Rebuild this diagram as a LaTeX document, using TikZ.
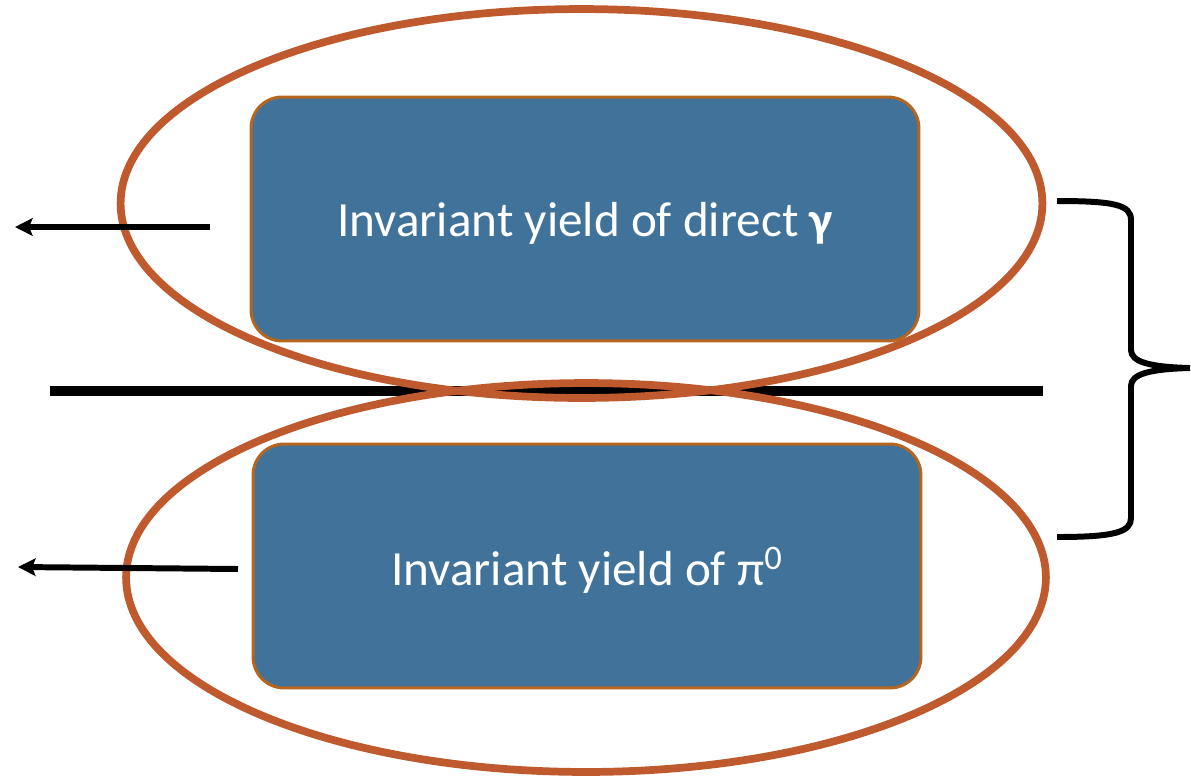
\documentclass[tikz,border=0pt]{standalone}
\usepackage{fontspec}
\setmainfont{Carlito}
\usetikzlibrary{shapes.geometric,arrows.meta}
\definecolor{boxfill}{RGB}{65,115,154}
\definecolor{boxedge}{RGB}{181,101,29}
\definecolor{ringcol}{RGB}{190,90,46}
\tikzset{
  yieldbox/.style={draw=boxedge, line width=1.7pt, fill=boxfill, rounded corners=0.62cm,
    minimum width=13.36cm, minimum height=4.88cm, inner sep=0pt},
  boxtext/.style={text=white, font=\fontsize{28}{32}\selectfont, inner sep=0pt},
  ring/.style={draw=ringcol, line width=4.4pt, ellipse, inner sep=0pt},
  outarrow/.style={line width=3.4pt, -{Stealth[length=10pt,width=10pt,inset=2pt]}},
  divider/.style={line width=6pt},
  bracepath/.style={line width=3.4pt}
}
\begin{document}
\begin{tikzpicture}[x=0.02cm,y=-0.02cm]
\useasboundingbox (0,0) rectangle (1191,779);
% boxes
\node[yieldbox] (top) at (585,219) {};
\node[yieldbox] (bot) at (587,566) {};
\node[boxtext] (toptext) at ([yshift=-0.08cm]top.center) {Invariant yield of direct \textbf{γ}};
\node[boxtext] (bottext) at ([yshift=-0.08cm]bot.center) {Invariant yield of π\textsuperscript{0}};
% divider
\coordinate (dL) at (50,391);
\coordinate (dR) at (1043,391);
\draw[divider] (dL) -- (dR);
% ellipses
\node[ring, minimum width=18.44cm, minimum height=7.78cm] (ringtop) at (581.5,203.5) {};
\node[ring, minimum width=18.4cm, minimum height=7.78cm] (ringbot) at (586,577.5) {};
% arrows
\coordinate (a1s) at (210,227);
\coordinate (a1e) at (15,227);
\coordinate (a2s) at (238,569);
\coordinate (a2e) at (18,567);
\draw[outarrow] (a1s) -- (a1e);
\draw[outarrow] (a2s) -- (a2e);
% brace
\coordinate (bTop) at (1057,201);
\coordinate (bTip) at (1190,368);
\coordinate (bBot) at (1057,537);
\draw[bracepath] (bTop) .. controls (1115,201) and (1131,205) .. (1131,220)
  -- (1131,350) .. controls (1131,362) and (1150,367) .. (bTip)
  .. controls (1150,369) and (1131,374) .. (1131,386)
  -- (1131,518) .. controls (1131,532) and (1115,537) .. (bBot);
\end{tikzpicture}
\end{document}
